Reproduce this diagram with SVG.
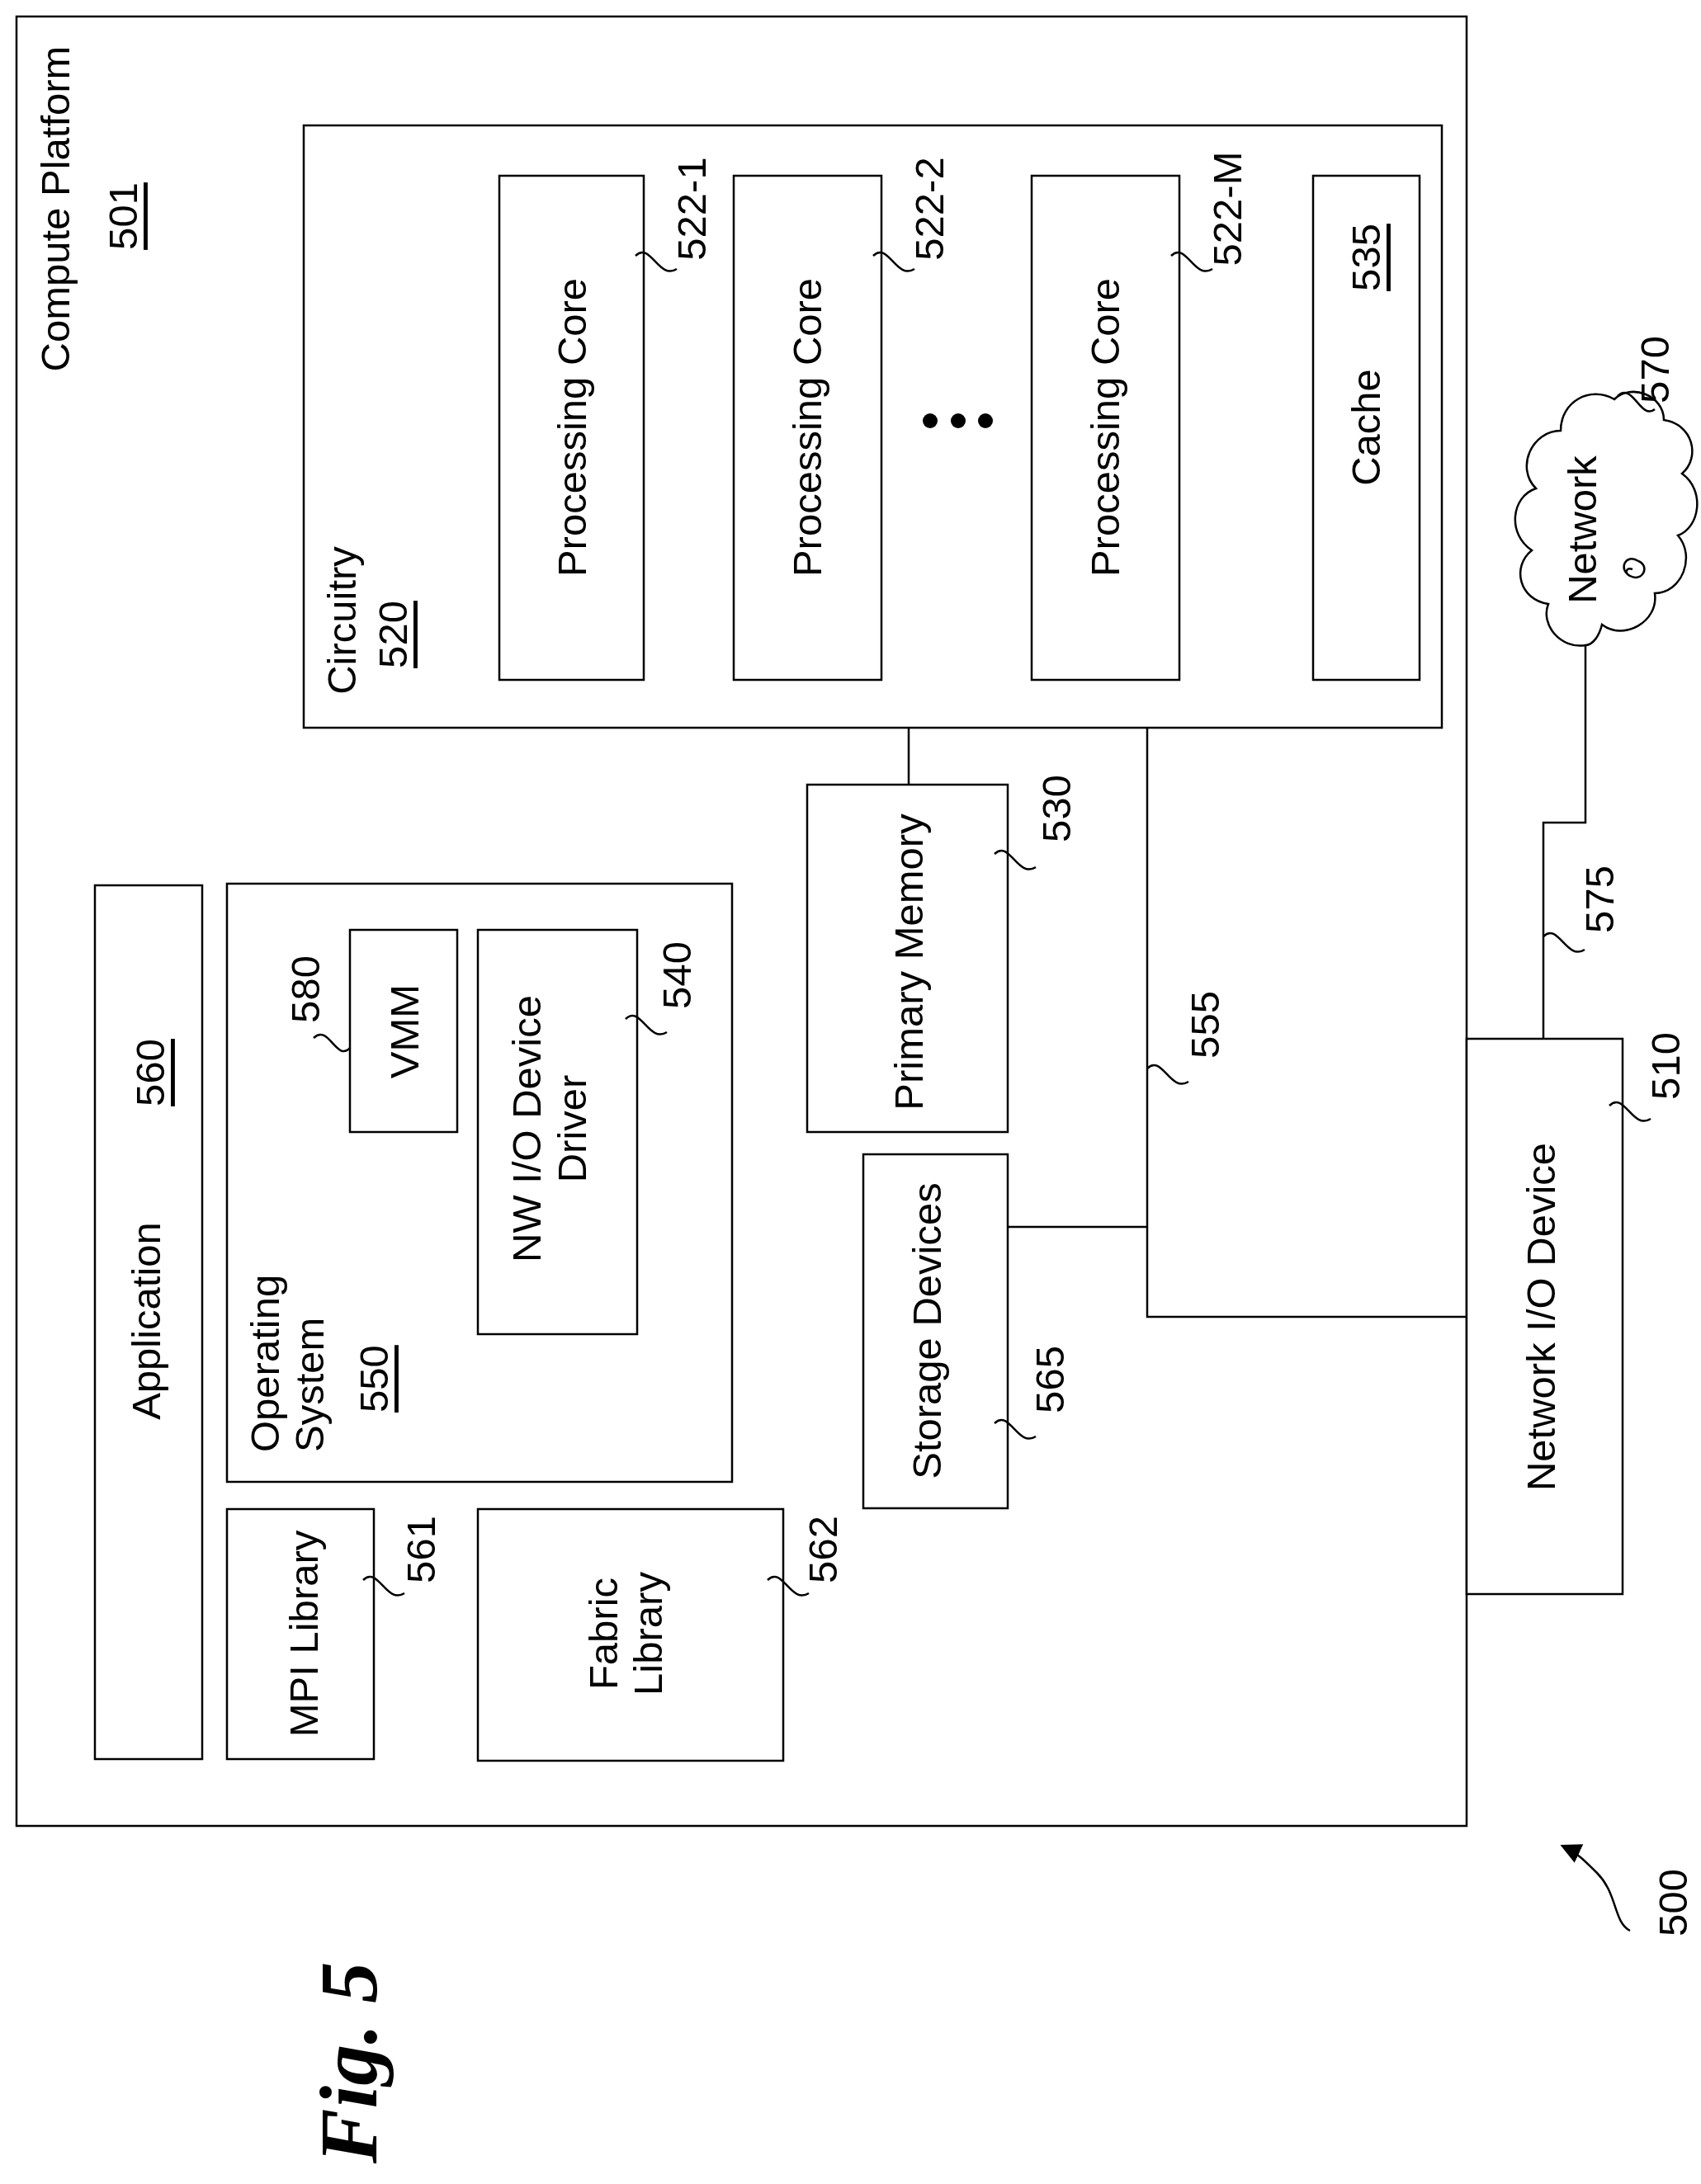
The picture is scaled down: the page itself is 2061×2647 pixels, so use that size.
<svg xmlns="http://www.w3.org/2000/svg" width="2061" height="2647" viewBox="0 0 2061 2647">
<style>
rect{fill:#fff;stroke:#000;stroke-width:2.5}
.c{fill:none;stroke:#000;stroke-width:2.5}
text{font-family:"Liberation Sans",Arial,sans-serif;font-size:49px;fill:#000}
.m{text-anchor:middle;dominant-baseline:central}
.u{text-decoration:underline}
</style>
<defs><marker id="ah" markerWidth="10" markerHeight="10" refX="8" refY="5" orient="auto" markerUnits="strokeWidth"><path d="M0,0 L10,5 L0,10 z" fill="#000"/></marker></defs>
<rect width="2061" height="2647" style="fill:#fff;stroke:none"/>
<g id="platform"><rect x="20" y="20" width="1757" height="2193"/>
<text class="m" transform="translate(67,253) rotate(-90)">Compute Platform</text>
<text class="m u" transform="translate(149,262) rotate(-90)">501</text></g>
<g id="circuitry"><rect x="368" y="152" width="1379" height="730"/>
<text class="m" transform="translate(414,752) rotate(-90)">Circuitry</text>
<text class="m u" transform="translate(476,769) rotate(-90)">520</text></g>
<g id="core1"><rect x="605" y="213" width="175" height="611"/><text class="m" transform="translate(693,518) rotate(-90)">Processing Core</text>
<path class="c" d="M770,310 c18,-18 28,30 50,16"/><text class="m" transform="translate(838,253) rotate(-90)">522-1</text></g>
<g id="core2"><rect x="889" y="213" width="179" height="611"/><text class="m" transform="translate(978,518) rotate(-90)">Processing Core</text>
<path class="c" d="M1058,310 c18,-18 28,30 50,16"/><text class="m" transform="translate(1126,253) rotate(-90)">522-2</text></g>
<g id="dots"><circle cx="1127" cy="510" r="9"/><circle cx="1161" cy="510" r="9"/><circle cx="1194" cy="510" r="9"/></g>
<g id="coreM"><rect x="1250" y="213" width="179" height="611"/><text class="m" transform="translate(1339,518) rotate(-90)">Processing Core</text>
<path class="c" d="M1419,310 c18,-18 28,30 50,16"/><text class="m" transform="translate(1487,253) rotate(-90)">522-M</text></g>
<g id="cache"><rect x="1591" y="213" width="129" height="611"/><text class="m" transform="translate(1655,518) rotate(-90)">Cache</text>
<text class="m u" transform="translate(1655,312) rotate(-90)">535</text></g>
<g id="memory"><rect x="978" y="951" width="243" height="421"/><text class="m" transform="translate(1101,1166) rotate(-90)">Primary Memory</text>
<path class="c" d="M1205,1035 c18,-18 28,30 50,16"/><text class="m" transform="translate(1280,980) rotate(-90)">530</text></g>
<g id="storage"><rect x="1046" y="1399" width="175" height="429"/><text class="m" transform="translate(1123,1613) rotate(-90)">Storage Devices</text>
<path class="c" d="M1205,1725 c18,-18 28,30 50,16"/><text class="m" transform="translate(1272,1672) rotate(-90)">565</text></g>
<g id="application"><rect x="115" y="1073" width="130" height="1059"/><text class="m" transform="translate(177,1601) rotate(-90)">Application</text>
<text class="m u" transform="translate(182,1300) rotate(-90)">560</text></g>
<g id="os"><rect x="275" y="1071" width="612" height="725"/>
<text transform="translate(321,1760) rotate(-90)" dominant-baseline="central">Operating</text>
<text transform="translate(375,1760) rotate(-90)" dominant-baseline="central">System</text>
<text class="u" transform="translate(453,1712) rotate(-90)" dominant-baseline="central">550</text></g>
<g id="vmm"><rect x="424" y="1127" width="130" height="245"/><text class="m" transform="translate(490,1250) rotate(-90)">VMM</text>
<path class="c" d="M380,1258 c18,-18 28,30 44,12"/><text class="m" transform="translate(370,1199) rotate(-90)">580</text></g>
<g id="driver"><rect x="579" y="1127" width="193" height="490"/>
<text class="m" transform="translate(638,1368) rotate(-90)">NW I/O Device</text>
<text class="m" transform="translate(693,1368) rotate(-90)">Driver</text>
<path class="c" d="M758,1235 c18,-18 28,30 50,16"/><text class="m" transform="translate(820,1182) rotate(-90)">540</text></g>
<g id="mpi"><rect x="275" y="1829" width="178" height="303"/><text class="m" transform="translate(368,1980) rotate(-90)">MPI Library</text>
<path class="c" d="M440,1915 c18,-18 28,30 50,16"/><text class="m" transform="translate(510,1878) rotate(-90)">561</text></g>
<g id="fabric"><rect x="579" y="1829" width="370" height="305"/>
<text class="m" transform="translate(731,1980) rotate(-90)">Fabric</text>
<text class="m" transform="translate(785,1980) rotate(-90)">Library</text>
<path class="c" d="M930,1915 c18,-18 28,30 50,16"/><text class="m" transform="translate(997,1878) rotate(-90)">562</text></g>
<g id="netio"><rect x="1777" y="1259" width="189" height="673"/><text class="m" transform="translate(1867,1596) rotate(-90)">Network I/O Device</text>
<path class="c" d="M1950,1340 c18,-18 28,30 50,16"/><text class="m" transform="translate(2018,1292) rotate(-90)">510</text></g>
<g id="network">
<path class="c" style="fill:#fff" d="M1921,782 c-30,5 -55,-25 -45,-50 c-35,-5 -45,-45 -20,-65 c-30,-20 -25,-65 5,-75 c-25,-25 -5,-70 30,-70 c0,-35 35,-55 65,-38 c20,-20 60,-5 60,25 c35,5 45,45 22,65 c28,20 22,65 -5,75 c22,25 5,70 -28,70 c5,35 -38,58 -64,38 c-5,20 -15,25 -20,25 z"/>
<path class="c" d="M1985,680 c-15,-10 -25,10 -10,18 c15,8 25,-12 10,-18 M1978,690 c-8,-3 -10,5 -3,8"/>
<text class="m" transform="translate(1917,642) rotate(-90)">Network</text>
<path class="c" d="M1960,480 c18,-18 28,30 45,16"/><text class="m" transform="translate(2005,448) rotate(-90)">570</text></g>
<g id="connectors">
<path class="c" d="M1101,882 V951"/>
<path class="c" d="M1390,882 V1596 H1777"/>
<path class="c" d="M1221,1487 H1390"/>
<path class="c" d="M1921,782 V997 H1870 V1259"/>
<path class="c" d="M1390,1295 c18,-18 28,30 50,16"/><text class="m" transform="translate(1460,1242) rotate(-90)">555</text>
<path class="c" d="M1870,1135 c18,-18 28,30 50,16"/><text class="m" transform="translate(1938,1090) rotate(-90)">575</text>
<path class="c" d="M1975,2340 c-20,-10 -15,-45 -40,-70 c-15,-15 -25,-25 -40,-32" marker-end="url(#ah)"/>
</g>
<text class="m" transform="translate(2027,2306) rotate(-90)">500</text>
<text class="m" transform="translate(422,2500) rotate(-90)" style="font-family:'Liberation Serif',serif;font-weight:bold;font-style:italic;font-size:100px">Fig. 5</text>
</svg>
